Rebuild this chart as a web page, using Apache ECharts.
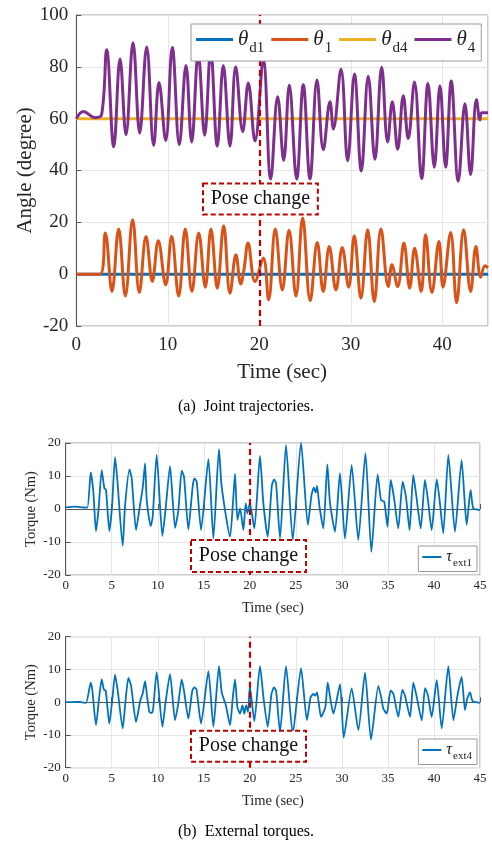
<!DOCTYPE html>
<html><head><meta charset="utf-8">
<script src="https://cdn.jsdelivr.net/npm/echarts@6/dist/echarts.min.js"></script>
<style>html,body{margin:0;padding:0;background:#fff}#c{width:492px;height:850px}</style>
</head><body><div id="c"></div>
<script>
// ---------- DATA (time in sec, value) ----------
const thetaD1 = [[0,0],[45,0]];
const thetaD4 = [[0,60],[45,60]];
const theta1 = [[0,0],[2.6,0],[3.17,15.9],[3.9,-6.7],[4.63,17.4],[5.36,-8.4],[6.16,21.0],[6.89,-7.1],[7.62,14.5],[8.31,-2.8],[8.96,12.9],[9.77,-4.1],[10.42,14.6],[11.19,-8.4],[11.91,17.4],[12.64,-6.7],[13.38,15.9],[14.1,-5.0],[14.72,17.4],[15.41,-5.4],[16.11,18.7],[16.8,-7.4],[17.45,7.5],[17.97,-3.8],[18.33,1.9],[18.77,12.0],[19.53,-2.8],[20.44,6.2],[21.02,-9.9],[21.75,17.4],[22.52,-6.1],[23.25,16.9],[24.01,-8.4],[24.74,21.7],[25.57,-10.2],[26.34,12.2],[26.99,-6.7],[27.65,10.7],[28.38,-6.1],[29.07,10.3],[29.77,-5.0],[30.38,14.8],[31.11,-9.3],[31.85,17.1],[32.57,-10.6],[33.3,17.4],[34.1,-4.8],[34.5,3.6],[35.12,-4.8],[35.81,12.0],[36.44,-5.4],[36.98,10.0],[37.7,-6.7],[38.18,15.2],[38.87,-7.1],[39.64,12.6],[40.08,-5.0],[40.92,16.1],[41.57,-11.0],[42.34,17.1],[43.1,-6.7],[43.68,10.7],[44.2,-1.2],[44.67,3.2],[45,2.5]];
const theta4 = [[0,60],[0.77,62.8],[2.04,60.4],[2.77,61.6],[3.32,86.6],[4.09,49.1],[4.78,83.0],[5.43,53.8],[6.2,89.3],[6.93,54.5],[7.69,87.7],[8.46,49.7],[9.04,74.0],[9.77,51.6],[10.49,87.5],[11.26,50.0],[11.99,80.5],[12.61,51.0],[13.33,85],[14.03,53.6],[14.69,86],[15.41,49.4],[16.07,80.5],[16.8,49.4],[17.42,80],[18.19,55],[18.8,73.8],[19.53,51.4],[20.44,82.5],[21.25,36.7],[22.01,68.5],[22.67,43.9],[23.28,72.9],[24.09,36.7],[24.81,73.1],[25.54,36.8],[26.31,74.9],[27.0,48],[27.73,66.5],[28.1,56],[28.93,79.1],[29.66,43.7],[30.4,77.2],[31.15,39.8],[31.91,76.4],[32.64,44.3],[33.38,79.8],[34.03,51.0],[34.54,66.5],[35.13,48.2],[35.74,68.8],[36.28,52.3],[36.96,74.1],[37.75,36.8],[38.44,73.6],[39.13,41.3],[39.75,72.7],[40.37,41.3],[40.98,74.5],[41.75,35.9],[42.48,65.8],[43.1,38.4],[43.74,67.4],[44.12,59.5],[44.3,62.3],[45,62.3]];
const tauExt1 = [[0,0.5],[1.0,0.7],[1.8,0.5],[2.35,0.4],[2.72,11.1],[3.0,5.3],[3.29,-6.7],[3.58,0.2],[3.91,11.8],[4.2,6.3],[4.38,5.8],[4.74,-6.7],[5.03,0.7],[5.36,15.7],[5.61,8.8],[6.19,-11.2],[6.44,0.7],[6.92,12.0],[7.17,9.3],[7.64,-6.4],[8.07,1.2],[8.36,6.3],[8.62,13.8],[8.8,2.7],[9.23,-5.2],[9.45,-2.3],[9.88,16.4],[10.5,-8.2],[10.86,0.2],[11.33,13.0],[11.88,-5.7],[12.24,-0.3],[12.6,11.6],[12.85,9.8],[13.32,-6.2],[13.79,6.8],[13.98,9.3],[14.23,8.3],[14.7,-6.4],[15.5,15.1],[16.04,-8.9],[16.65,18.1],[16.94,6.8],[17.85,-8.4],[18.21,3.7],[18.39,10.6],[18.65,-3.3],[18.94,0.2],[19.3,-6.4],[19.55,1.7],[19.73,-1.3],[20.0,1.7],[20.49,-5.9],[21.1,16.1],[21.47,1.7],[21.94,-8.4],[22.38,6.8],[22.63,9.0],[22.85,7.8],[23.28,-8.9],[23.93,19.4],[24.66,-9.4],[25.56,20.1],[26.3,-4.8],[26.7,4.2],[26.95,6.5],[27.15,5.0],[27.3,7.0],[27.55,1.0],[27.98,-5.9],[28.42,13.5],[28.7,2.0],[29.25,-6.9],[29.79,10.9],[30.33,-9.0],[31.06,13.3],[31.78,-9.4],[32.56,16.9],[33.2,-13.0],[33.88,10.5],[34.25,2.7],[34.6,2.2],[34.95,-5.4],[35.3,8.8],[35.65,3.6],[36.12,-5.9],[36.6,8.3],[36.96,3.6],[37.35,-6.4],[37.75,10.3],[38.1,3.6],[38.56,-5.9],[39.02,8.8],[39.37,2.2],[39.75,-6.4],[40.3,9.0],[40.6,3.0],[41.01,-7.4],[41.56,16.4],[42.28,-6.9],[43.0,14.8],[43.55,-4.8],[43.98,5.8],[44.27,0.2],[45,-0.3]];
const tauExt4 = [[0,0],[1.5,0.1],[2.2,-0.2],[2.72,6.0],[2.9,3.5],[3.29,-7.0],[3.6,0.5],[3.91,7.0],[4.15,3.8],[4.35,3.5],[4.74,-6.5],[5.05,0.5],[5.36,8.4],[5.65,3.5],[6.19,-8.0],[6.5,0.5],[6.81,7.4],[7.1,5.0],[7.64,-6.0],[8.1,0.5],[8.35,2.5],[8.62,6.4],[8.85,1.5],[9.1,-3.0],[9.34,-3.3],[9.5,-2.0],[9.88,9.2],[10.5,-7.5],[10.85,0],[11.33,8.6],[11.88,-5.5],[12.25,0],[12.6,7.0],[12.85,3.5],[13.32,-5.0],[13.75,3.5],[13.98,4.5],[14.2,4.0],[14.7,-6.5],[15.5,9.5],[16.04,-7.5],[16.65,11.0],[16.95,3.0],[17.4,-1.0],[17.85,-7.0],[18.15,1.5],[18.39,7.0],[18.65,-1.5],[18.94,-3.5],[19.2,-1.0],[19.4,-3.5],[19.6,-1.0],[19.8,-3.0],[20.0,4.8],[20.49,-5.8],[21.1,11.0],[21.5,1.0],[21.94,-7.5],[22.35,2.5],[22.63,4.5],[22.85,3.5],[23.28,-9.1],[23.93,11.0],[24.66,-9.6],[25.56,10.4],[26.2,-5.5],[26.6,1.5],[26.9,2.5],[27.1,2.0],[27.3,3.0],[27.5,-0.5],[27.73,-4.5],[28.2,-1.5],[28.46,6.0],[28.75,1.0],[29.07,-3.5],[29.8,5.5],[30.2,-10.8],[31.06,4.2],[31.79,-8.5],[32.51,9.0],[33.16,-11.4],[33.96,5.0],[34.3,1.0],[34.5,-2.0],[34.87,-3.5],[35.3,3.6],[35.6,2.5],[36.13,-4.5],[36.57,3.8],[36.85,2.0],[37.4,-4.5],[37.76,6.0],[38.1,2.0],[38.67,-5.5],[39.03,4.3],[39.35,2.0],[39.75,-4.5],[40.3,6.7],[40.84,-8.0],[41.56,11.0],[42.11,-5.5],[42.55,2.0],[43.0,7.7],[43.37,-2.4],[43.6,1.0],[43.92,3.0],[44.2,0.3],[45,-0.2]];
const poseChangeTime = 20;
const topXTicks = {min:0, max:45, interval:10};
const topYTicks = {min:-20, max:100, interval:20};
const torqueXTicks = {min:0, max:45, interval:5};
const torqueYTicks = {min:-20, max:20, interval:10};
const poseBoxTop = [[13.85,35],[26.4,23]];
const poseBoxT1 = [[13.61,-9.4],[26.1,-19.1]];
const poseBoxT4 = [[13.61,-8.7],[26.1,-18.2]];

// ---------- STYLE ----------
const FF = 'Liberation Serif';
const C_BLUE = '#0072BD', C_ORANGE = '#D95319', C_YELLOW = '#EDB120', C_PURPLE = '#7E2F8E', C_RED = '#C00000';
const legendRich = {
  t: {fontFamily: FF, fontStyle: 'italic', fontSize: 21, color: '#222'},
  s: {fontFamily: FF, fontSize: 15, color: '#222', padding: [18, 0, 0, 1]}
};
const legendRichSmall = {
  t: {fontFamily: FF, fontStyle: 'italic', fontSize: 16, color: '#222'},
  s: {fontFamily: FF, fontSize: 11, color: '#222', padding: [12, 0, 0, 1]}
};
const subMap = {'θd1':['θ','d1'],'θ1':['θ','1'],'θd4':['θ','d4'],'θ4':['θ','4'],'τext1':['τ','ext1'],'τext4':['τ','ext4']};
function legendFmt(n){ const p = subMap[n]; return '{t|' + p[0] + '}{s|' + p[1] + '}'; }

function xAx(grid, ticks, fs, nameFs, nameGap, margin, showMax){
  return {type:'value', gridIndex:grid, min:ticks.min, max:ticks.max, interval:ticks.interval,
    name:'Time (sec)', nameLocation:'middle', nameGap:nameGap, nameMoveOverlap:false,
    nameTextStyle:{fontFamily:FF, fontSize:nameFs, color:'#262626'},
    axisLine:{show:true, lineStyle:{color:'#555', width:1}},
    axisTick:{show:true, inside:true, length:5, lineStyle:{color:'#555'}},
    axisLabel:{fontFamily:FF, fontSize:fs, color:'#262626', margin:margin, showMaxLabel:showMax},
    splitLine:{show:true, lineStyle:{color:'#e6e6e6', width:1}}};
}
function yAx(grid, ticks, fs, name, nameFs, nameGap, margin){
  return {type:'value', gridIndex:grid, min:ticks.min, max:ticks.max, interval:ticks.interval,
    name:name, nameLocation:'middle', nameGap:nameGap, nameRotate:90, nameMoveOverlap:false,
    nameTextStyle:{fontFamily:FF, fontSize:nameFs, color:'#262626'},
    axisLine:{show:true, lineStyle:{color:'#555', width:1}},
    axisTick:{show:true, inside:true, length:5, lineStyle:{color:'#555'}},
    axisLabel:{fontFamily:FF, fontSize:fs, color:'#262626', margin:margin},
    splitLine:{show:true, lineStyle:{color:'#e6e6e6', width:1}}};
}
function markers(box, fs){
  return {
    markLine:{silent:true, symbol:['none','none'], z:5, label:{show:false},
      lineStyle:{color:C_RED, width:2.2, type:[6,4]}, data:[{xAxis:poseChangeTime}]},
    markArea:{silent:true, z:10,
      itemStyle:{color:'#ffffff', borderColor:C_RED, borderWidth:2, borderType:[5,3]},
      label:{show:true, position:'inside', formatter:'Pose change', fontFamily:FF, fontSize:fs, color:'#111'},
      data:[[{xAxis:box[0][0], yAxis:box[0][1]},{xAxis:box[1][0], yAxis:box[1][1]}]]}
  };
}
function line(name, data, color, width, xi, extra){
  return Object.assign({type:'line', name:name, data:data, xAxisIndex:xi, yAxisIndex:xi,
    showSymbol:false, symbol:'none', lineStyle:{color:color, width:width}, itemStyle:{color:color},
    animation:false}, extra||{});
}
const lineIcon = 'rect';

const chart = echarts.init(document.getElementById('c'), null, {renderer:'canvas'});
chart.setOption({
  animation:false,
  backgroundColor:'#fff',
  title:[
    {text:'(a)  Joint trajectories.', left:'center', top:399, padding:0,
      textStyle:{fontFamily:FF, fontSize:16, fontWeight:'normal', color:'#000'}},
    {text:'(b)  External torques.', left:'center', top:824, padding:0,
      textStyle:{fontFamily:FF, fontSize:16, fontWeight:'normal', color:'#000'}}
  ],
  grid:[
    {left:76.3, top:15, right:4, height:311, show:true, borderColor:'#999', borderWidth:1, backgroundColor:'transparent'},
    {left:65.7, top:443, right:12, height:132, show:true, borderColor:'#999', borderWidth:1, backgroundColor:'transparent'},
    {left:65.7, top:636.7, right:12, height:131, show:true, borderColor:'#999', borderWidth:1, backgroundColor:'transparent'}
  ],
  xAxis:[ xAx(0, topXTicks, 19, 21, 36, 10, false), xAx(1, torqueXTicks, 13, 14.5, 26, 4, true), xAx(2, torqueXTicks, 13, 14.5, 26, 4, true) ],
  yAxis:[ yAx(0, topYTicks, 19, 'Angle (degree)', 21, 40, 8), yAx(1, torqueYTicks, 13, 'Torque (Nm)', 14.5, 27, 5), yAx(2, torqueYTicks, 13, 'Torque (Nm)', 14.5, 27, 5) ],
  legend:[
    {data:['θd1','θ1','θd4','θ4'], left:191, top:24, orient:'horizontal', icon:lineIcon, itemWidth:37, itemHeight:3, itemGap:7,
      backgroundColor:'#fff', borderColor:'#999', borderWidth:1, padding:[5,6,5,5], formatter:legendFmt,
      textStyle:{rich:legendRich}, selectedMode:false, z:20},
    {data:['τext1'], right:15, top:546, icon:lineIcon, itemWidth:19, itemHeight:2, backgroundColor:'#fff', borderColor:'#999', borderWidth:1,
      padding:[3,5,3,4], formatter:legendFmt, textStyle:{rich:legendRichSmall}, selectedMode:false, z:20},
    {data:['τext4'], right:15, top:739, icon:lineIcon, itemWidth:19, itemHeight:2, backgroundColor:'#fff', borderColor:'#999', borderWidth:1,
      padding:[3,5,3,4], formatter:legendFmt, textStyle:{rich:legendRichSmall}, selectedMode:false, z:20}
  ],
  series:[
    line('θd1', thetaD1, C_BLUE, 3, 0, markers(poseBoxTop, 20)),
    line('θ1', theta1, C_ORANGE, 3, 0, {smooth:0.4}),
    line('θd4', thetaD4, C_YELLOW, 3, 0),
    line('θ4', theta4, C_PURPLE, 3, 0, {smooth:0.4}),
    line('τext1', tauExt1, C_BLUE, 1.8, 1, Object.assign({smooth:0.2}, markers(poseBoxT1, 20))),
    line('τext4', tauExt4, C_BLUE, 1.8, 2, Object.assign({smooth:0.2}, markers(poseBoxT4, 20)))
  ]
});
</script>
</body></html>
